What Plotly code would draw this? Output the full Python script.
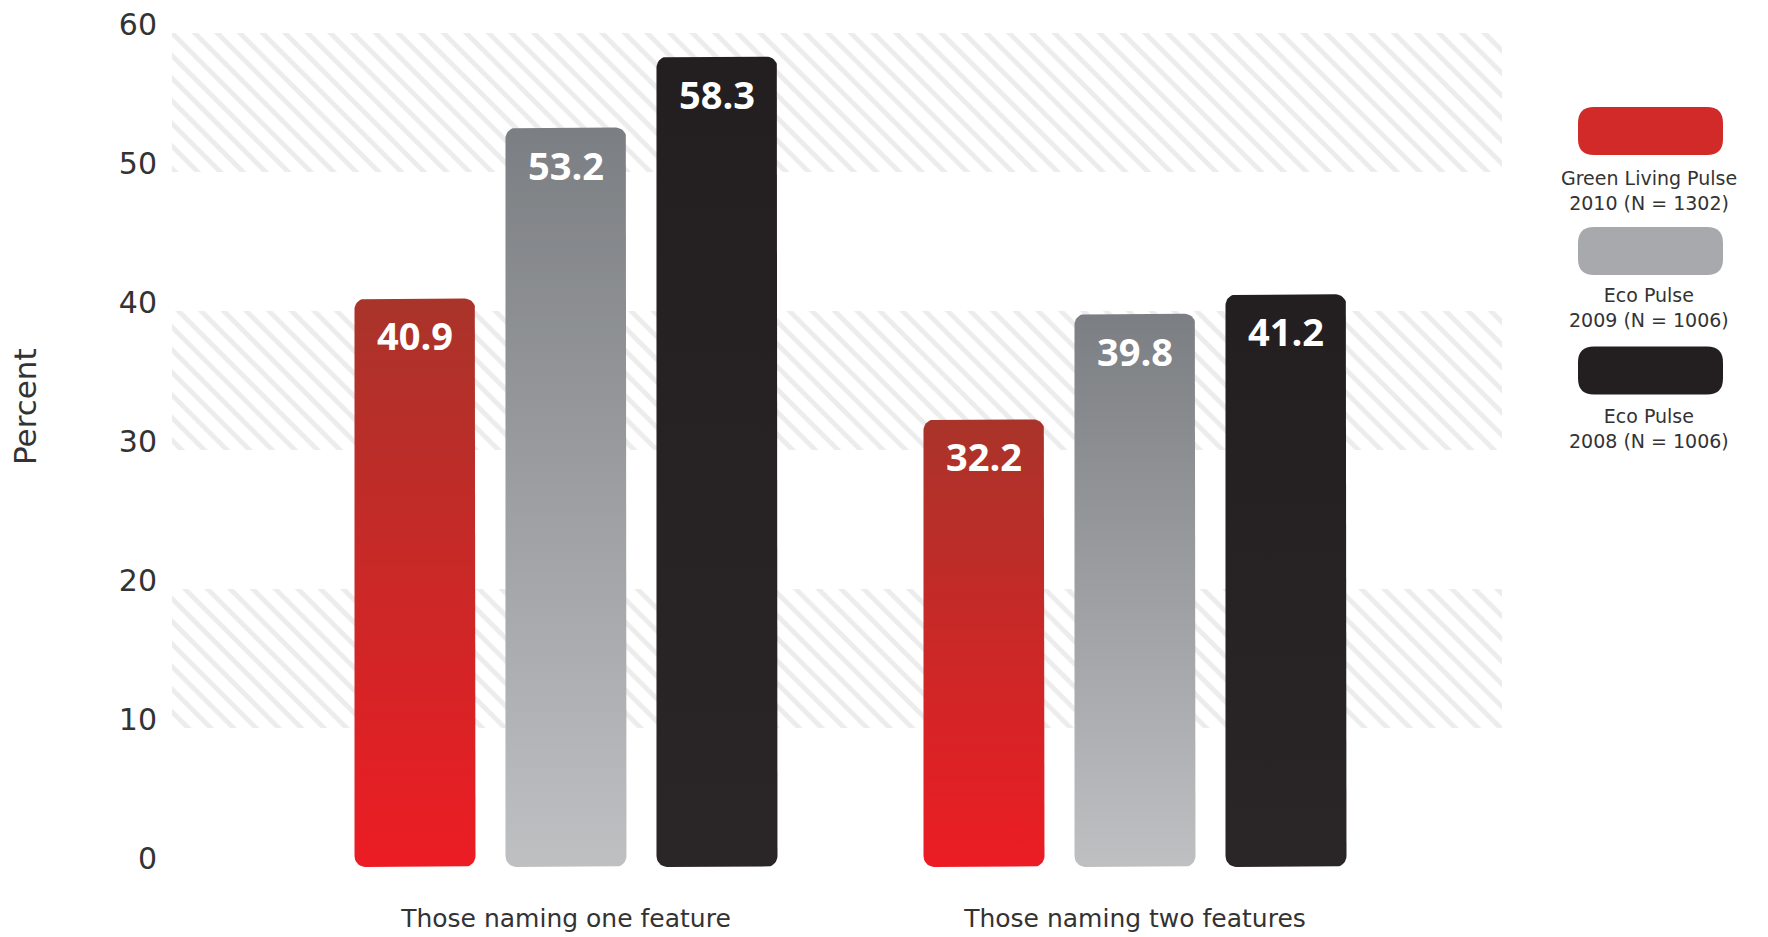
import numpy as np
import plotly.graph_objects as go

# ---- data -------------------------------------------------------------
categories = ["Those naming one feature", "Those naming two features"]
series_names = ["Green Living Pulse", "Eco Pulse", "Eco Pulse"]
series_samples = ["2010 (N = 1302)", "2009 (N = 1006)", "2008 (N = 1006)"]
green_living_2010 = [40.9, 32.2]
eco_pulse_2009 = [53.2, 39.8]
eco_pulse_2008 = [58.3, 41.2]
y_ticks = [0, 10, 20, 30, 40, 50, 60]
shaded_bands = [(10, 20), (30, 40), (50, 60)]

series_values = [green_living_2010, eco_pulse_2009, eco_pulse_2008]

# ---- styling ----------------------------------------------------------
# (top colour, bottom colour) of each series' vertical gradient
gradients = [("#a9342a", "#ec1c24"), ("#7b7e82", "#bec0c2"), ("#231f20", "#2a2627")]
swatch_colors = ["#d12a28", "#a7a9ac", "#231f20"]
TEXT = "#333333"
FONT = "DejaVu Sans"
BOLD_FONT = "Open Sans"

W, H = 1768, 937
ML, MR, MT, MB = 172, 266, 33, 70
PW, PH = W - ML - MR, H - MT - MB
X_RANGE = [-0.6924, 1.6450]
Y_RANGE = [0, 60]
px_x = PW / (X_RANGE[1] - X_RANGE[0])   # pixels per category unit
px_y = PH / (Y_RANGE[1] - Y_RANGE[0])   # pixels per percent

BAR_PITCH = 151 / px_x     # spacing of bars inside a group
BAR_WIDTH = 121 / px_x
CORNER = 11                # corner radius, px


def rounded_bar(xc, top, half_w, r_px):
    rx, ry = r_px / px_x, r_px / px_y
    x0, x1 = xc - half_w, xc + half_w
    xs, ys = [], []
    corners = [
        (x0 + rx, ry, 180, 270),
        (x1 - rx, ry, 270, 360),
        (x1 - rx, top - ry, 0, 90),
        (x0 + rx, top - ry, 90, 180),
    ]
    for cx, cy, a0, a1 in corners:
        t = np.radians(np.linspace(a0, a1, 10))
        xs.extend(cx + rx * np.cos(t))
        ys.extend(cy + ry * np.sin(t))
    xs.append(xs[0])
    ys.append(ys[0])
    return xs, ys


def to_paper(px, py):
    return (px - ML) / PW, (H - MB - py) / PH


fig = go.Figure()

# hatched background bands
for lo, hi in shaded_bands:
    fig.add_trace(go.Scatter(
        x=[X_RANGE[0], X_RANGE[1], X_RANGE[1], X_RANGE[0], X_RANGE[0]],
        y=[lo, lo, hi, hi, lo],
        mode="none", fill="toself", fillcolor="rgba(255,255,255,0)",
        fillpattern=dict(shape="\\", fgcolor="#d9d9d9", bgcolor="rgba(255,255,255,0)",
                         size=16, solidity=0.3),
        hoverinfo="skip", showlegend=False,
    ))

# gradient bars with rounded corners
annotations = []
for j, (vals, (c_top, c_bot)) in enumerate(zip(series_values, gradients)):
    for i, v in enumerate(vals):
        xc = i + (j - 1) * BAR_PITCH
        xs, ys = rounded_bar(xc, v, BAR_WIDTH / 2, CORNER)
        fig.add_trace(go.Scatter(
            x=xs, y=ys, mode="lines", line=dict(width=0),
            fill="toself",
            fillgradient=dict(type="vertical", colorscale=[[0, c_bot], [1, c_top]],
                              start=0, stop=v),
            name=f"{series_names[j]} {series_samples[j]}",
            hoveron="fills", text=f"{categories[i]}: {v:.1f}", hoverinfo="text",
            showlegend=False,
        ))
        annotations.append(dict(
            x=xc, y=v, xref="x", yref="y", text=f"<b>{v:.1f}</b>", showarrow=False,
            yanchor="middle", yshift=-37,
            font=dict(family=BOLD_FONT, size=38, color="white"),
        ))

# legend: rounded swatches with two-line labels underneath
legend_cx = 1650.5
swatch_cy = [131, 251, 370.5]
label_cy = [190.5, 307.5, 428]
shapes = []
sw, sh, sr = 145, 48, 16
for k in range(3):
    ax, ay = to_paper(legend_cx, swatch_cy[k])
    hw, hh = sw / 2, sh / 2
    path = (f"M {-hw + sr},{-hh} L {hw - sr},{-hh} Q {hw},{-hh} {hw},{-hh + sr} "
            f"L {hw},{hh - sr} Q {hw},{hh} {hw - sr},{hh} L {-hw + sr},{hh} "
            f"Q {-hw},{hh} {-hw},{hh - sr} L {-hw},{-hh + sr} Q {-hw},{-hh} {-hw + sr},{-hh} Z")
    shapes.append(dict(type="path", xref="paper", yref="paper", xsizemode="pixel",
                       ysizemode="pixel", xanchor=ax, yanchor=ay, path=path,
                       fillcolor=swatch_colors[k], line=dict(width=0), layer="above"))
    px_, py_ = to_paper(legend_cx - 2, label_cy[k])
    annotations.append(dict(
        x=px_, y=py_, xref="paper", yref="paper",
        text=f"{series_names[k]}<br>{series_samples[k]}", showarrow=False,
        xanchor="center", yanchor="middle", align="center",
        font=dict(family=FONT, size=19, color=TEXT),
    ))

# y-axis title
tx, ty = to_paper(25, 407)
annotations.append(dict(x=tx, y=ty, xref="paper", yref="paper", text="Percent",
                        textangle=-90, showarrow=False, xanchor="center", yanchor="middle",
                        font=dict(family=FONT, size=31, color=TEXT)))

fig.update_layout(
    width=W, height=H,
    margin=dict(l=ML, r=MR, t=MT, b=MB),
    paper_bgcolor="white", plot_bgcolor="white",
    showlegend=False,
    xaxis=dict(range=X_RANGE, tickvals=[0, 1], ticktext=categories,
               showgrid=False, zeroline=False, showline=False, ticks="",
               tickfont=dict(family=FONT, size=25, color=TEXT),
               ticklabelstandoff=34, automargin=False, fixedrange=True),
    yaxis=dict(range=Y_RANGE, tickvals=y_ticks, showgrid=False, zeroline=False,
               showline=False, ticks="", ticklabelshift=-9, ticklabelstandoff=14,
               tickfont=dict(family=FONT, size=30, color=TEXT),
               automargin=False, fixedrange=True),
    shapes=shapes,
    annotations=annotations,
)

fig.write_html("out.html")
